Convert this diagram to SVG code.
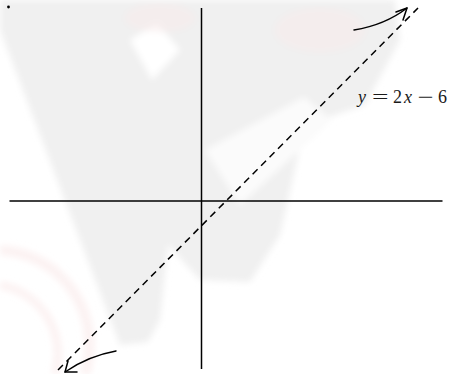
<svg xmlns="http://www.w3.org/2000/svg" width="449" height="374" viewBox="0 0 449 374">
  <defs>
    <filter id="soft" x="-10%" y="-10%" width="120%" height="120%">
      <feGaussianBlur stdDeviation="3"/>
    </filter>
    <style>
      .axis { stroke: #000; stroke-width: 1.5; fill: none; }
      .graph { stroke: #000; stroke-width: 1.5; stroke-dasharray: 7 5; fill: none; }
      .curve { stroke: #000; stroke-width: 1.5; fill: none; stroke-linecap: round; stroke-linejoin: round; }
      .lbl { font-family: "Liberation Serif", "Times New Roman", serif; font-size: 18px; fill: #1a1a1a; }
      .it { font-style: italic; }
    </style>
  </defs>
  <rect width="449" height="374" fill="#ffffff"/>
  <g id="watermark" filter="url(#soft)">
    <polygon points="0,0 395,0 400,40 365,105 305,125 280,235 250,282 200,280 168,245 160,320 148,342 120,345 0,30" fill="#f0f0f0"/>
    <polygon points="130,40 157,23 180,50 152,80" fill="#ffffff"/>
    <polygon points="205,150 304,97 332,120 300,150 240,205" fill="#fbfbfb"/>
    <ellipse cx="160" cy="18" rx="35" ry="14" fill="#f8eaea" opacity="0.5"/>
    <ellipse cx="320" cy="30" rx="45" ry="22" fill="#f8e8e8" opacity="0.45"/>
    <path d="M0,250 A95,95 0 0 1 85,374" stroke="#fae9e9" stroke-width="10" fill="none" opacity="0.6"/>
    <path d="M0,285 A70,70 0 0 1 55,374" stroke="#faeaea" stroke-width="8" fill="none" opacity="0.6"/>
  </g>
  <g id="connectors">
    <line class="axis" x1="201.5" y1="8" x2="201.5" y2="369"/>
    <line class="axis" x1="9.5" y1="201" x2="442.5" y2="201"/>
    <line class="graph" x1="58" y1="370" x2="418" y2="8"/>
    <path class="curve" d="M354,30 Q385,25 407,8"/>
    <polyline class="curve" points="396,12 407,8 403,20"/>
    <path class="curve" d="M116,351 Q88,356 65,372"/>
    <polyline class="curve" points="68,361 65,372 77,372"/>
  </g>
  <g id="dot">
    <circle cx="8.5" cy="7" r="1.4" fill="#000"/>
  </g>
  <g id="label">
    <text class="lbl" y="102.5"><tspan class="it" x="358">y</tspan><tspan x="372" textLength="16.5" lengthAdjust="spacingAndGlyphs">=</tspan><tspan x="393">2</tspan><tspan class="it" x="404">x</tspan><tspan x="417.5" textLength="16" lengthAdjust="spacingAndGlyphs">−</tspan><tspan x="438">6</tspan></text>
  </g>
</svg>
